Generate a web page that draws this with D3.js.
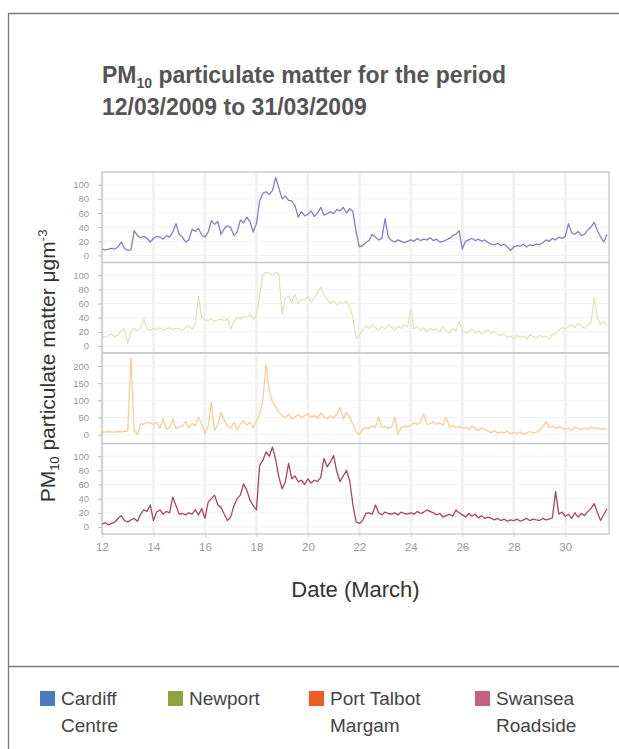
<!DOCTYPE html>
<html>
<head>
<meta charset="utf-8">
<script src="https://cdn.jsdelivr.net/npm/d3@7"></script>
<style>
  body { margin: 0; background: #fff; }
  text { font-family: "Liberation Sans", Arial, sans-serif; }
</style>
</head>
<body>
<div id="chart"></div>
<script>
// 3-hourly readings from 12 March 00:00, 8 per day
var startDay = 12
var stepDay = 0.125

var cardiff = [
    9, 8, 9, 10, 9, 12, 19, 10,
    7, 8, 35, 28, 25, 27, 24, 19,
    24, 27, 26, 23, 28, 26, 33, 45,
    30, 26, 19, 22, 37, 34, 38, 29,
    26, 33, 49, 44, 48, 30, 38, 42,
    40, 28, 33, 50, 46, 54, 48, 33,
    45, 77, 88, 90, 86, 92, 110, 95,
    80, 84, 78, 77, 70, 54, 62, 56,
    58, 63, 55, 60, 68, 57, 59, 62,
    59, 65, 63, 68, 60, 66, 62, 33,
    12, 14, 18, 21, 30, 26, 22, 24,
    52, 26, 21, 19, 22, 20, 18, 20,
    22, 20, 24, 21, 23, 22, 25, 21,
    23, 19, 20, 22, 24, 28, 30, 35,
    9, 20, 22, 24, 21, 23, 20, 22,
    18, 16, 15, 17, 14, 16, 12, 7,
    12, 14, 13, 16, 12, 15, 14, 16,
    15, 18, 22, 20, 24, 22, 26, 24,
    27, 45, 32, 30, 34, 28, 30, 36,
    40, 47, 35, 26, 19, 30
]

var newport = [
    14, 12, 15, 17, 13, 16, 22, 24,
    4, 20, 25, 22, 26, 38, 24, 22,
    25, 23, 26, 22, 24, 26, 23, 25,
    24, 22, 26, 28, 24, 30, 71, 40,
    37, 36, 38, 35, 37, 38, 36, 38,
    24, 35, 40, 38, 42, 40, 45, 38,
    42, 70, 101, 104, 103, 100, 104, 101,
    45, 68, 70, 62, 73, 60, 66, 64,
    70, 62, 68, 75, 83, 72, 66, 60,
    64, 58, 62, 60, 63, 55, 40, 10,
    15, 22, 28, 25, 30, 26, 22, 28,
    24, 30, 26, 22, 28, 25, 30, 27,
    51, 24, 28, 22, 26, 20, 25, 22,
    24, 20, 27, 22, 18, 25, 21, 35,
    22, 18, 20, 24, 19, 22, 17, 20,
    23, 18, 20, 16, 15, 17, 12, 14,
    10, 15, 12, 14, 9, 16, 13, 11,
    15, 12, 14, 10, 16, 18, 22, 26,
    24, 28, 30, 26, 32, 28, 25, 30,
    33, 69, 40, 30, 35, 28
]

var portTalbot = [
    8, 7, 9, 8, 7, 9, 8, 9,
    10, 224, 12, 0, 32, 30, 36, 33,
    30, 37, 18, 46, 15, 20, 45, 18,
    22, 25, 38, 20, 32, 26, 51, 30,
    3, 25, 94, 12, 30, 65, 42, 25,
    20, 35, 15, 30, 41, 28, 36, 20,
    38, 60, 100, 205, 128, 95, 80, 65,
    55, 48, 60, 45, 52, 58, 50, 55,
    60, 50, 56, 48, 62, 52, 46, 55,
    48, 60, 80, 45, 65, 52, 30, 8,
    0, 15, 20, 18, 25, 22, 51, 20,
    24, 18, 22, 51, 0, 20, 25, 22,
    28, 34, 30, 36, 60, 30, 32, 38,
    30, 34, 28, 51, 22, 27, 20, 24,
    18, 22, 14, 25, 18, 12, 20, 15,
    10, 6, 12, 4, 8, 5, 10, 2,
    6, 3, 8, 0, 5, 9, 4, 7,
    12, 22, 38, 20, 25, 18, 22, 20,
    15, 20, 12, 22, 18, 15, 20, 16,
    22, 18, 20, 15, 18, 14
]

var swansea = [
    4, 6, 3, 5, 7, 12, 16, 9,
    7, 10, 12, 8, 18, 24, 22, 31,
    9, 21, 24, 18, 22, 20, 42, 30,
    18, 19, 17, 20, 18, 24, 17, 26,
    12, 35, 40, 45, 31, 28, 18, 9,
    14, 30, 40, 45, 61, 52, 38, 30,
    24, 87, 94, 106, 100, 113, 95, 70,
    54, 64, 90, 68, 72, 64, 66, 60,
    68, 62, 66, 64, 70, 97, 85, 92,
    101, 78, 64, 72, 80, 65, 31, 7,
    5, 9, 19, 20, 18, 31, 20, 17,
    21, 19, 18, 20, 17, 21, 19, 18,
    20, 18, 22, 19, 21, 24, 22, 20,
    17, 19, 14, 16, 18, 15, 24, 20,
    17, 14, 19, 15, 18, 13, 16, 12,
    14, 12, 10, 12, 9, 11, 8, 10,
    9, 11, 8, 10, 12, 9, 11, 10,
    9, 12, 10, 11, 13, 50, 18, 21,
    15, 18, 12, 20, 14, 19, 16, 22,
    26, 33, 20, 9, 18, 26
]

var stations = ["Cardiff Centre", "Newport", "Port Talbot Margam", "Swansea Roadside"]
var legendLines = [["Cardiff", "Centre"], ["Newport"], ["Port Talbot", "Margam"], ["Swansea", "Roadside"]]
var legendColors = ["#4a7bbf", "#8fa43e", "#f15a24", "#c2607f"]
var lineColors = ["#8b7cc9", "#e0e6bc", "#f9cc9a", "#ad4464"]
var xTicks = [12, 14, 16, 18, 20, 22, 24, 26, 28, 30]
var yTicksSmall = [0, 20, 40, 60, 80, 100]
var yTicksLarge = [0, 50, 100, 150, 200]

var series = [cardiff, newport, portTalbot, swansea]

var width = 619
var height = 749

var plot = { left: 102, right: 609, top: 172, panelH: 90.5 }

var svg = d3.select("#chart")
    .append("svg")
    .attr("width", width)
    .attr("height", height)

// frame
svg.append("line").attr("x1", 8.5).attr("x2", width).attr("y1", 13.5).attr("y2", 13.5)
    .attr("stroke", "#7a7a7a").attr("stroke-width", 1.3)
svg.append("line").attr("x1", 8.5).attr("x2", 8.5).attr("y1", 13).attr("y2", height)
    .attr("stroke", "#7a7a7a").attr("stroke-width", 1.3)
svg.append("line").attr("x1", 8).attr("x2", width).attr("y1", 666.5).attr("y2", 666.5)
    .attr("stroke", "#7a7a7a").attr("stroke-width", 1.3)

// title
var title = svg.append("text")
    .attr("x", 102).attr("y", 83)
    .attr("font-size", 23).attr("font-weight", "bold").attr("fill", "#555")
title.append("tspan").text("PM")
title.append("tspan").text("10").attr("font-size", 14).attr("dy", 5)
title.append("tspan").text(" particulate matter for the period").attr("dy", -5)
svg.append("text")
    .attr("x", 102).attr("y", 115)
    .attr("font-size", 23).attr("font-weight", "bold").attr("fill", "#555")
    .text("12/03/2009 to 31/03/2009")

var x = d3.scaleLinear()
    .domain([12, 31.7])
    .range([plot.left, plot.right])

svg.append("defs").append("clipPath").attr("id", "clip")
    .append("rect")
    .attr("x", plot.left).attr("y", plot.top)
    .attr("width", plot.right - plot.left).attr("height", plot.panelH * 4)

series.forEach(function(values, i) {
    var top = plot.top + i * plot.panelH
    var big = (i == 2)
    var y = d3.scaleLinear()
        .domain(big ? [-26, 238] : [-10, 118])
        .range([top + plot.panelH, top])
    var ticks = big ? yTicksLarge : yTicksSmall

    var g = svg.append("g")

    // background grid
    g.selectAll(".vgrid")
        .data(xTicks)
        .enter().append("line")
        .attr("x1", d => x(d)).attr("x2", d => x(d))
        .attr("y1", top).attr("y2", top + plot.panelH)
        .attr("stroke", "#f1f1f1").attr("stroke-width", 3)
    g.selectAll(".hgrid")
        .data(ticks)
        .enter().append("line")
        .attr("x1", plot.left).attr("x2", plot.right)
        .attr("y1", d => y(d)).attr("y2", d => y(d))
        .attr("stroke", "#f3f3f3").attr("stroke-width", 1)

    var leftAxis = d3.axisLeft(y).tickValues(ticks).tickSize(4).tickPadding(9)
    var ax = g.append("g")
        .attr("transform", "translate(" + plot.left + ",0)")
        .call(leftAxis)
    ax.select(".domain").remove()
    ax.selectAll("line").attr("stroke", "#bbb")
    ax.selectAll("text").attr("fill", "#999").attr("font-size", 9.5)
        .attr("font-family", "Liberation Sans, Arial, sans-serif")

    g.append("rect")
        .attr("x", plot.left).attr("y", top)
        .attr("width", plot.right - plot.left).attr("height", plot.panelH)
        .attr("fill", "none").attr("stroke", "#c4c4c4").attr("stroke-width", 1.2)

    var line = d3.line()
        .x((d, k) => x(startDay + k * stepDay))
        .y(d => y(d))

    g.append("path")
        .datum(values)
        .attr("clip-path", "url(#clip)")
        .attr("d", line)
        .attr("fill", "none")
        .attr("stroke", lineColors[i])
        .attr("stroke-width", 1.3)
        .attr("stroke-linejoin", "round")
})

// x axis
var bottomAxis = d3.axisBottom(x).tickValues(xTicks).tickSize(3).tickPadding(6)
var xa = svg.append("g")
    .attr("transform", "translate(0," + (plot.top + plot.panelH * 4) + ")")
    .call(bottomAxis)
xa.select(".domain").remove()
xa.selectAll("line").attr("stroke", "#ccc")
xa.selectAll("text").attr("fill", "#999").attr("font-size", 11.5)
    .attr("font-family", "Liberation Sans, Arial, sans-serif")

svg.append("text")
    .attr("x", (plot.left + plot.right) / 2).attr("y", 597)
    .attr("text-anchor", "middle")
    .attr("font-size", 22).attr("fill", "#333")
    .text("Date (March)")

// y axis label
var ylab = svg.append("text")
    .attr("transform", "translate(55,366) rotate(-90)")
    .attr("text-anchor", "middle")
    .attr("font-size", 21).attr("fill", "#333")
ylab.append("tspan").text("PM")
ylab.append("tspan").text("10").attr("font-size", 13).attr("dy", 4)
ylab.append("tspan").text(" particulate matter μgm").attr("dy", -4)
ylab.append("tspan").text("-3").attr("font-size", 13).attr("dy", -8)

// legend
var legendX = [40, 168, 309, 475]
var leg = svg.selectAll(".leg")
    .data(stations)
    .enter().append("g")
    .attr("transform", (d, i) => "translate(" + legendX[i] + ",691)")

leg.append("rect")
    .attr("width", 15).attr("height", 15)
    .attr("fill", (d, i) => legendColors[i])

leg.each(function(d, i) {
    var t = d3.select(this).append("text")
        .attr("x", 21).attr("y", 14)
        .attr("font-size", 19).attr("fill", "#444")
    legendLines[i].forEach(function(s, k) {
        t.append("tspan").attr("x", 21).attr("dy", k == 0 ? 0 : 27).text(s)
    })
})
</script>
</body>
</html>
